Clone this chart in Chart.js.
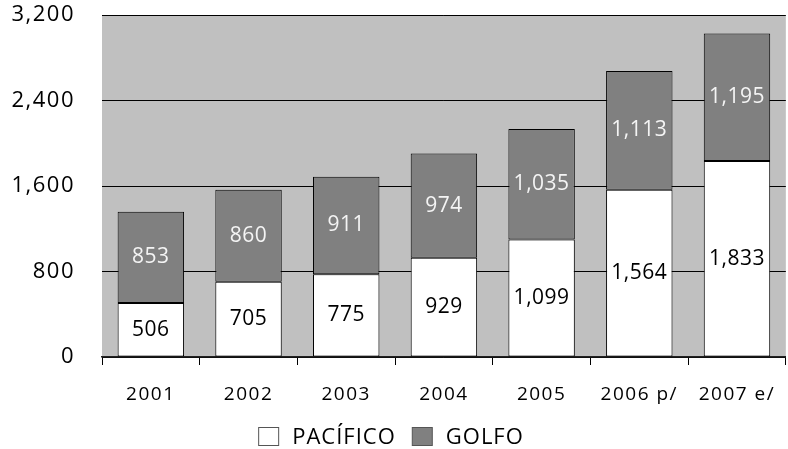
<!DOCTYPE html>
<html>
<head>
<meta charset="utf-8">
<script src="https://cdn.jsdelivr.net/npm/chart.js@4/dist/chart.umd.min.js"></script>
<style>
  html, body { margin: 0; padding: 0; background: #fff; }
  #wrap { width: 788px; height: 449px; }
</style>
</head>
<body>
<div id="wrap"><canvas id="canvas"></canvas></div>
<script>
var years = ['2001', '2002', '2003', '2004', '2005', '2006 p/', '2007 e/'];
var pacifico = [506, 705, 775, 929, 1099, 1564, 1833];
var golfo = [853, 860, 911, 974, 1035, 1113, 1195];
var yTicks = [0, 800, 1600, 2400, 3200];

var FONT = "'Open Sans', 'DejaVu Sans', sans-serif";

// grey panel behind the bars (also widens the letter spacing for the axis text)
var plotBackground = {
  id: 'plotBackground',
  beforeDraw: function(chart) {
    var a = chart.chartArea, ctx = chart.ctx;
    ctx.save();
    ctx.fillStyle = '#c0c0c0';
    ctx.fillRect(a.left, a.top, a.right - a.left, a.bottom - a.top);
    ctx.restore();
    ctx.letterSpacing = '1.5px';
  }
};

// value in the middle of each segment
var barLabels = {
  id: 'barLabels',
  afterDatasetsDraw: function(chart) {
    var ctx = chart.ctx;
    ctx.save();
    ctx.letterSpacing = '0.5px';
    ctx.font = '21px ' + FONT;
    ctx.textAlign = 'center';
    ctx.textBaseline = 'middle';
    chart.data.datasets.forEach(function(ds, i) {
      var meta = chart.getDatasetMeta(i);
      ctx.fillStyle = i === 0 ? '#000' : '#f4f4f4';
      meta.data.forEach(function(bar, j) {
        ctx.fillText(ds.data[j].toLocaleString('en-US'), bar.x, (bar.y + bar.base) / 2);
      });
    });
    ctx.restore();
  }
};

// legend row under the axis, drawn from the datasets
var bottomLegend = {
  id: 'bottomLegend',
  afterDraw: function(chart) {
    var ctx = chart.ctx;
    var sets = chart.data.datasets;
    var box = 20, gapText = 14, gapItem = 16, yMid = 437;
    ctx.save();
    ctx.letterSpacing = '1px';
    ctx.font = '22px ' + FONT;
    ctx.textBaseline = 'middle';
    var total = 0;
    sets.forEach(function(ds, i) {
      total += box + gapText + ctx.measureText(ds.label).width + (i ? 0 : gapItem);
    });
    var x = chart.width / 2 - total / 2 - 3;
    sets.forEach(function(ds) {
      ctx.fillStyle = ds.backgroundColor;
      ctx.strokeStyle = '#555';
      ctx.lineWidth = 1;
      ctx.fillRect(x + 0.5, yMid - 9.5, box, 18);
      ctx.strokeRect(x + 0.5, yMid - 9.5, box, 18);
      x += box + gapText;
      ctx.fillStyle = '#000';
      ctx.fillText(ds.label, x, yMid + 1);
      x += ctx.measureText(ds.label).width + gapItem;
    });
    ctx.restore();
    ctx.letterSpacing = '0px';
  }
};

var ctx = document.getElementById('canvas').getContext('2d');
window.myBar = new Chart(ctx, {
  type: 'bar',
  data: {
    labels: years,
    datasets: [{
      label: 'PACÍFICO',
      data: pacifico,
      backgroundColor: '#ffffff',
      borderColor: '#000',
      borderWidth: 1,
      borderSkipped: false
    }, {
      label: 'GOLFO',
      data: golfo,
      backgroundColor: '#808080',
      borderColor: '#000',
      borderWidth: 1,
      borderSkipped: false
    }]
  },
  options: {
    responsive: true,
    maintainAspectRatio: false,
    animation: false,
    categoryPercentage: 1,
    barPercentage: 0.68,
    layout: { padding: { top: 15, right: 0, left: 0, bottom: 40 } },
    scales: {
      x: {
        stacked: true,
        afterFit: function(scale) { scale.height = 52; },
        grid: { display: true, drawOnChartArea: false, drawTicks: true, tickLength: 8, color: '#000' },
        border: { display: true, color: '#222', width: 1.5 },
        ticks: { color: '#000', padding: 18, font: { family: FONT, size: 19 } }
      },
      y: {
        stacked: true,
        min: 0,
        max: 3200,
        afterFit: function(scale) {
          scale.width = 102;
          scale.paddingTop = 0;
          scale.paddingBottom = 0;
        },
        afterBuildTicks: function(scale) {
          scale.ticks = yTicks.map(function(v) { return { value: v }; });
        },
        grid: { color: '#000', drawTicks: false, lineWidth: 1 },
        border: { display: false },
        ticks: { color: '#000', padding: 27, font: { family: FONT, size: 22 } }
      }
    },
    plugins: {
      legend: { display: false },
      tooltip: { enabled: false }
    }
  },
  plugins: [plotBackground, barLabels, bottomLegend]
});
</script>
</body>
</html>
